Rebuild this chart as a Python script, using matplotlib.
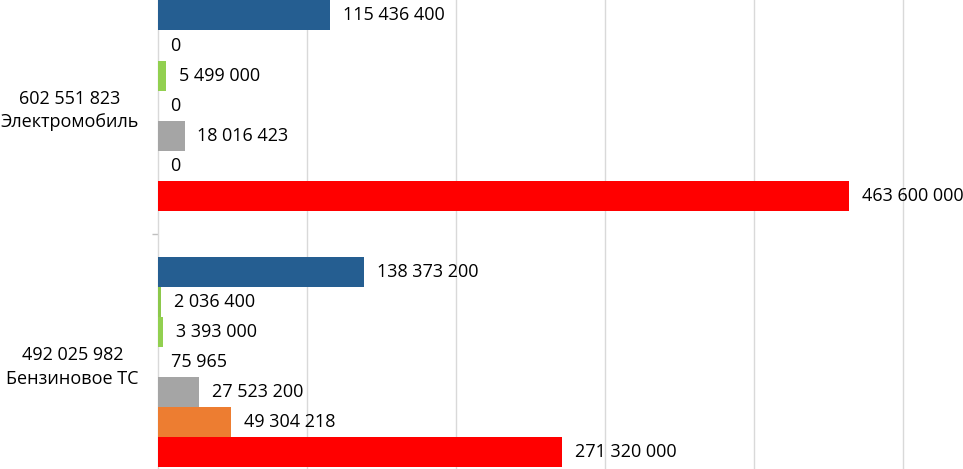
import matplotlib
matplotlib.use("Agg")
import matplotlib.pyplot as plt
import numpy as np

plt.rcParams['font.family'] = ['Open Sans', 'DejaVu Sans']

categories = ["492 025 982\nБензиновое ТС", "602 551 823\nЭлектромобиль"]

# series listed from top bar to bottom bar within each category
series_colors = ["#255E91", "#8CC84B", "#92D050", "#FFC000", "#A5A5A5", "#ED7D31", "#FF0000"]
s_blue   = [138373200, 115436400]
s_green1 = [2036400, 0]
s_green2 = [3393000, 5499000]
s_yellow = [75965, 0]
s_gray   = [27523200, 18016423]
s_orange = [49304218, 0]
s_red    = [271320000, 463600000]
series = [s_blue, s_green1, s_green2, s_yellow, s_gray, s_orange, s_red]

def fmt(v):
    return f"{v:,}".replace(",", " ")

fig = plt.figure(figsize=(9.63, 4.69), dpi=100)
ax = fig.add_axes([158/963, 0, 805/963, 1])

band = 8.5
centers = np.array([band/2 + i*band for i in range(len(categories))])
n = len(series)
for k, (vals, col) in enumerate(zip(series, series_colors)):
    off = (n - 1) / 2 - k
    ys = centers + off
    ax.barh(ys, vals, height=1.0, color=col, zorder=3)
    for y, v in zip(ys, vals):
        ax.annotate(fmt(v), xy=(v, y), xytext=(9, 0), textcoords="offset points",
                    ha="left", va="center", fontsize=13, color="#000000", zorder=4)

ax.set_xticks(np.arange(1e8, 5.01e8, 1e8))
ax.xaxis.grid(True, color="#D9D9D9", linewidth=1.0, zorder=0)
ax.tick_params(axis="x", length=0, labelbottom=False)

ax.set_yticks(centers)
ax.set_yticklabels(categories, fontsize=13, multialignment="center", linespacing=1.4)
ax.tick_params(axis="y", which="major", length=0, pad=14)
ax.set_yticks([band], minor=True)
ax.tick_params(axis="y", which="minor", length=4, color="#BFBFBF", width=1)

ax.set_xlim(0, 540e6)
ax.set_ylim(0.70, 16.26)

for s in ["top", "right", "bottom"]:
    ax.spines[s].set_visible(False)
ax.spines["left"].set_color("#D9D9D9")
ax.spines["left"].set_linewidth(1.0)
ax.set_axisbelow(True)

fig.savefig("out.png", dpi=100)
